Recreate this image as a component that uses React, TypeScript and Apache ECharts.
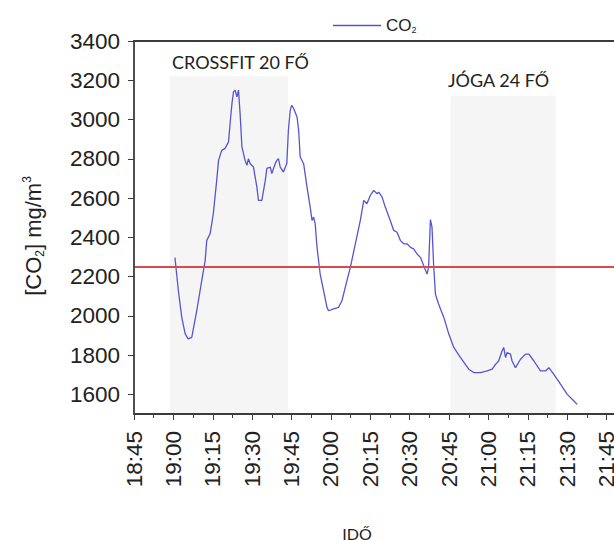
import { useEffect, useRef } from "react";
import * as echarts from "echarts";

// Measurement time, minutes after midnight
const timeMinutes = [
  1140.6, 1141.9, 1143.2, 1144.5, 1145.6, 1147.0, 1148.9, 1150.8, 1152.1, 1152.7,
  1154.0, 1155.2, 1156.5, 1157.2, 1158.4, 1159.7, 1161.0, 1161.6, 1162.3, 1162.9,
  1163.5, 1164.2, 1164.8, 1165.4, 1166.1, 1167.3, 1168.0, 1168.6, 1169.2, 1170.5,
  1171.8, 1172.4, 1173.7, 1175.0, 1175.6, 1176.9, 1177.5, 1178.8, 1179.4, 1180.0,
  1180.7, 1181.9, 1183.2, 1183.8, 1184.5, 1185.1, 1185.8, 1187.1, 1187.7, 1188.3,
  1189.6, 1190.9, 1192.1, 1192.8, 1193.4, 1194.0, 1194.7, 1195.9, 1197.2, 1198.5,
  1199.1, 1201.0, 1202.9, 1204.2, 1206.1, 1207.4, 1209.3, 1211.2, 1212.5, 1213.7,
  1215.0, 1216.3, 1217.6, 1218.2, 1219.5, 1220.7, 1222.6, 1223.9, 1225.2, 1226.5,
  1227.7, 1229.0, 1230.3, 1231.5, 1232.8, 1234.1, 1235.3, 1236.6, 1237.2, 1237.9,
  1238.5, 1239.1, 1239.8, 1241.0, 1243.0, 1244.9, 1246.8, 1249.3, 1251.2, 1252.5,
  1254.4, 1257.0, 1259.5, 1261.4, 1262.7, 1263.9, 1265.2, 1265.8, 1266.5, 1267.1,
  1268.4, 1269.0, 1270.3, 1272.2, 1274.1, 1275.4, 1277.3, 1279.8, 1281.8, 1283.0,
  1284.9, 1287.5, 1290.0, 1291.9, 1293.8,
];

// CO2 concentration, mg/m3
const co2 = [
  2297, 2128, 1991, 1908, 1883, 1890, 2026, 2179, 2281, 2383,
  2419, 2520, 2690, 2792, 2843, 2853, 2886, 2980, 3081, 3141,
  3150, 3116, 3150, 3032, 2861, 2792, 2767, 2801, 2776, 2758,
  2656, 2588, 2588, 2690, 2751, 2758, 2725, 2776, 2792, 2801,
  2758, 2733, 2776, 2945, 3048, 3073, 3056, 3013, 2945, 2809,
  2775, 2656, 2554, 2486, 2503, 2470, 2349, 2213, 2128, 2043,
  2026, 2035, 2043, 2077, 2179, 2247, 2367, 2486, 2588, 2571,
  2613, 2639, 2622, 2630, 2605, 2554, 2486, 2435, 2426, 2383,
  2367, 2367, 2349, 2341, 2315, 2298, 2256, 2213, 2247, 2490,
  2452, 2264, 2111, 2060, 1992, 1907, 1839, 1788, 1753, 1728,
  1711, 1711, 1720, 1728, 1753, 1770, 1822, 1839, 1788, 1813,
  1805, 1770, 1736, 1779, 1805, 1805, 1770, 1720, 1720, 1736,
  1702, 1651, 1600, 1575, 1549,
];

// Threshold drawn as the red reference line
const limitValue = 2250;

// Axis ranges and ticks
const xMin = 1125; // 18:45
const xMax = 1320; // 22:00
const xLastLabel = 1305; // 21:45
const xStep = 15;
const yMin = 1500;
const yMax = 3400;
const yTicks = [1600, 1800, 2000, 2200, 2400, 2600, 2800, 3000, 3200, 3400];

// Class sessions shown as shaded bands
const sessionNames = ["CROSSFIT 20 FŐ", "JÓGA 24 FŐ"];
const sessionStart = [1138.7, 1245.5];
const sessionEnd = [1183.7, 1285.6];
const sessionTop = [3220, 3120];

const fmtTime = (m: number) => {
  const h = Math.floor(m / 60);
  const mm = Math.round(m - h * 60);
  return `${h}:${mm < 10 ? "0" + mm : mm}`;
};

const AXIS = "#3c3c3c";
const TEXT = "#222222";
const LINE = "#5555d4";
const LABEL_FONT = "'Liberation Sans', Arial, sans-serif";
const NOTE_FONT = "Lato, 'Open Sans', sans-serif";

export default function App() {
  const ref = useRef<HTMLDivElement>(null);

  useEffect(() => {
    if (!ref.current) return;
    const chart = echarts.init(ref.current, null, { renderer: "svg" });

    const points = timeMinutes.map((t, i) => [t, co2[i]]);

    chart.setOption({
      animation: false,
      backgroundColor: "#ffffff",
      // the plot runs past the right edge of the visible frame
      grid: {
        left: 134,
        top: 41,
        bottom: 127,
        width: 512,
        containLabel: false,
      },
      legend: {
        left: 328,
        top: 12,
        itemWidth: 48,
        itemHeight: 1.4,
        icon: "rect",
        itemStyle: { color: LINE },
        data: ["CO2"],
        formatter: () => "CO{s|2}",
        textStyle: {
          fontFamily: LABEL_FONT,
          fontSize: 17,
          color: TEXT,
          rich: {
            s: { fontSize: 9, fontFamily: LABEL_FONT, color: TEXT, padding: [10, 0, 0, 0] },
          },
        },
      },
      xAxis: [
        {
          type: "value",
          min: xMin,
          max: xMax,
          interval: xStep,
          z: 10,
          splitLine: { show: false },
          axisLine: { show: true, onZero: false, lineStyle: { color: AXIS, width: 1.8 } },
          axisTick: { show: true, inside: false, length: 6, lineStyle: { color: AXIS } },
          minorTick: { show: true, splitNumber: 2, length: 4, lineStyle: { color: AXIS } },
          axisLabel: {
            rotate: 90,
            margin: 17,
            fontSize: 22.5,
            fontFamily: LABEL_FONT,
            color: TEXT,
            formatter: (v: number) => (v > xLastLabel ? "" : fmtTime(v)),
          },
        },
        {
          type: "value",
          position: "top",
          min: xMin,
          max: xMax,
          z: 10,
          axisLine: { show: true, onZero: false, lineStyle: { color: AXIS, width: 1.8 } },
          axisTick: { show: false },
          axisLabel: { show: false },
          splitLine: { show: false },
        },
      ],
      yAxis: {
        type: "value",
        min: yMin,
        max: yMax,
        z: 10,
        splitLine: { show: false },
        axisLine: { show: true, onZero: false, lineStyle: { color: AXIS, width: 1.8 } },
        axisTick: { show: true, length: 6, customValues: yTicks, lineStyle: { color: AXIS } },
        axisLabel: {
          margin: 14,
          fontSize: 22.5,
          fontFamily: LABEL_FONT,
          color: TEXT,
          customValues: yTicks,
          formatter: (v: number) => String(v),
        },
      },
      graphic: [
        {
          type: "text",
          x: 33,
          y: 236,
          rotation: Math.PI / 2,
          style: {
            text: "[CO{s|2}] mg/m{p|3}",
            font: `22px ${LABEL_FONT}`,
            fill: TEXT,
            align: "center",
            verticalAlign: "middle",
            rich: {
              s: { fontSize: 12, fontFamily: LABEL_FONT, fill: TEXT, padding: [13, 0, 0, 0] },
              p: { fontSize: 12, fontFamily: LABEL_FONT, fill: TEXT, padding: [0, 0, 12, 0] },
            },
          },
        },
        {
          type: "text",
          x: 357,
          y: 533,
          style: {
            text: "IDŐ",
            font: `16px ${NOTE_FONT}`,
            fill: TEXT,
            align: "center",
            verticalAlign: "middle",
          },
        },
        {
          type: "text",
          x: 172,
          y: 62,
          style: {
            text: sessionNames[0],
            font: `18px ${NOTE_FONT}`,
            fill: "#222",
            align: "left",
            verticalAlign: "middle",
          },
        },
        {
          type: "text",
          x: 448,
          y: 80,
          style: {
            text: sessionNames[1],
            font: `18px ${NOTE_FONT}`,
            fill: "#222",
            align: "left",
            verticalAlign: "middle",
          },
        },
      ],
      series: [
        {
          name: "CO2",
          type: "line",
          data: points,
          symbol: "none",
          showSymbol: false,
          lineStyle: { color: LINE, width: 1.3 },
          itemStyle: { color: LINE },
          z: 3,
          markArea: {
            silent: true,
            itemStyle: { color: "#f5f5f5" },
            data: sessionNames.map((_, i) => [
              { xAxis: sessionStart[i], yAxis: yMin },
              { xAxis: sessionEnd[i], yAxis: sessionTop[i] },
            ]),
          },
          markLine: {
            silent: true,
            symbol: ["none", "none"],
            label: { show: false },
            lineStyle: { color: "#e0474c", width: 2, type: "solid" },
            data: [{ yAxis: limitValue }],
          },
        },
      ],
    });

    return () => chart.dispose();
  }, []);

  return (
    <div
      style={{
        position: "absolute",
        left: 0,
        top: 0,
        width: 614,
        height: 541,
        overflow: "hidden",
        background: "#ffffff",
      }}
    >
      <div ref={ref} style={{ width: 680, height: 541 }} />
    </div>
  );
}
